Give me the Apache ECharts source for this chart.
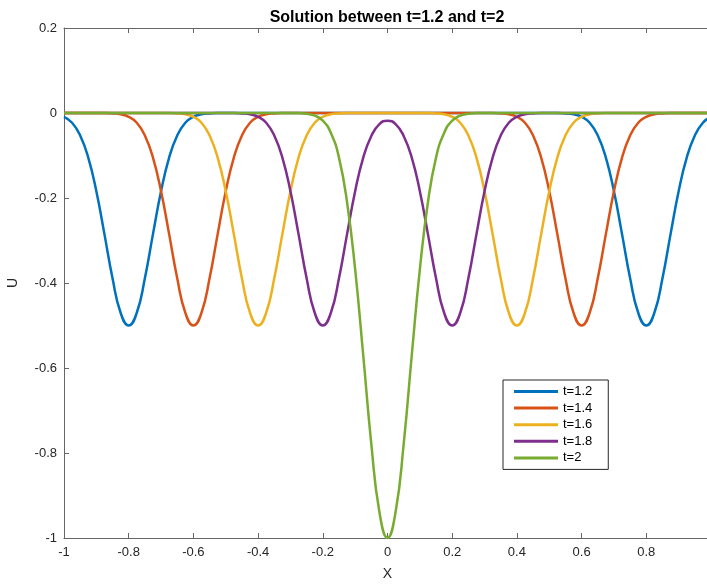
<!DOCTYPE html>
<html>
<head>
<meta charset="utf-8">
<script src="https://cdn.jsdelivr.net/npm/echarts@6/dist/echarts.min.js"></script>
<style>
html,body{margin:0;padding:0;background:#fff;}
#chart{width:707px;height:586px;}
</style>
</head>
<body>
<div id="chart"></div>
<script>
var xs = [-1,-0.975,-0.95,-0.925,-0.9,-0.875,-0.85,-0.825,-0.8,-0.775,-0.75,-0.725,-0.7,-0.675,-0.65,-0.625,-0.6,-0.575,-0.55,-0.525,-0.5,-0.475,-0.45,-0.425,-0.4,-0.375,-0.35,-0.325,-0.3,-0.275,-0.25,-0.225,-0.2,-0.175,-0.15,-0.125,-0.1,-0.075,-0.05,-0.025,0,0.025,0.05,0.075,0.1,0.125,0.15,0.175,0.2,0.225,0.25,0.275,0.3,0.325,0.35,0.375,0.4,0.425,0.45,0.475,0.5,0.525,0.55,0.575,0.6,0.625,0.65,0.675,0.7,0.725,0.75,0.775,0.8,0.825,0.85,0.875,0.9,0.925,0.95,0.975,1];

var u12 = [-0.009,-0.023,-0.053,-0.105,-0.184,-0.285,-0.389,-0.470,-0.500,-0.470,-0.389,-0.285,-0.184,-0.105,-0.053,-0.023,-0.009,-0.003,-0.001,
  0,0,0,0,0,0,0,0,0,0, 0,0,0,0,0,0,0,0,0,0, 0,0,0,0,0,0,0,0,0,0, 0,0,0,0,0,0,0,0,0,0, 0,0,0,
  -0.001,-0.003,-0.009,-0.023,-0.053,-0.105,-0.184,-0.285,-0.389,-0.470,-0.500,-0.470,-0.389,-0.285,-0.184,-0.105,-0.053,-0.023,-0.009];

var u14 = [0,0,0,0,0,0,
  -0.001,-0.003,-0.009,-0.023,-0.053,-0.105,-0.184,-0.285,-0.389,-0.470,-0.500,-0.470,-0.389,-0.285,-0.184,-0.105,-0.053,-0.023,-0.009,-0.003,-0.001,
  0,0,0,0,0,0,0,0,0,0, 0,0,0,0,0,0,0,0,0,0, 0,0,0,0,0,0,0,
  -0.001,-0.003,-0.009,-0.023,-0.053,-0.105,-0.184,-0.285,-0.389,-0.470,-0.500,-0.470,-0.389,-0.285,-0.184,-0.105,-0.053,-0.023,-0.009,-0.003,-0.001,
  0,0,0,0,0,0];

var u16 = [0,0,0,0,0,0,0,0,0,0, 0,0,0,0,
  -0.001,-0.003,-0.009,-0.023,-0.053,-0.105,-0.184,-0.285,-0.389,-0.470,-0.500,-0.470,-0.389,-0.285,-0.184,-0.105,-0.053,-0.023,-0.009,-0.003,-0.001,
  0,0,0,0,0,0,0,0,0,0, 0,
  -0.001,-0.003,-0.009,-0.023,-0.053,-0.105,-0.184,-0.285,-0.389,-0.470,-0.500,-0.470,-0.389,-0.285,-0.184,-0.105,-0.053,-0.023,-0.009,-0.003,-0.001,
  0,0,0,0,0,0,0,0,0,0, 0,0,0,0];

var u18 = [0,0,0,0,0,0,0,0,0,0, 0,0,0,0,0,0,0,0,0,0, 0,0,
  -0.001,-0.003,-0.009,-0.023,-0.053,-0.105,-0.184,-0.285,-0.389,-0.470,-0.500,-0.470,-0.389,-0.285,-0.184,-0.105,
  -0.054,-0.026,-0.018,-0.026,-0.054,
  -0.105,-0.184,-0.285,-0.389,-0.470,-0.500,-0.470,-0.389,-0.285,-0.184,-0.105,-0.053,-0.023,-0.009,-0.003,-0.001,
  0,0,0,0,0,0,0,0,0,0, 0,0,0,0,0,0,0,0,0,0, 0,0];

var u20 = [0,0,0,0,0,0,0,0,0,0, 0,0,0,0,0,0,0,0,0,0, 0,0,0,0,0,0,0,0,0,0,
  -0.002,-0.006,-0.018,-0.047,-0.105,-0.210,-0.368,-0.570,-0.779,-0.939,-1.000,-0.939,-0.779,-0.570,-0.368,-0.210,-0.105,-0.047,-0.018,-0.006,-0.002,
  0,0,0,0,0,0,0,0,0,0, 0,0,0,0,0,0,0,0,0,0, 0,0,0,0,0,0,0,0,0,0];

var seriesNames = ['t=1.2','t=1.4','t=1.6','t=1.8','t=2'];
var seriesValues = [u12,u14,u16,u18,u20];
var colors = ['#0072BD','#D95319','#EDB120','#7E2F8E','#77AC30'];
var titleText = 'Solution between t=1.2 and t=2';

var FONT = '"Liberation Sans", Arial, Helvetica, sans-serif';
var axisColor = '#666666';
var textColor = '#262626';

var chart = echarts.init(document.getElementById('chart'), null, {renderer:'canvas'});

var series = seriesNames.map(function(name, k){
  return {
    name: name,
    type: 'line',
    showSymbol: false,
    symbol: 'none',
    smooth: true,
    color: colors[k],
    lineStyle: {width: 2.5, color: colors[k]},
    itemStyle: {color: colors[k]},
    data: xs.map(function(x, i){ return [x, seriesValues[k][i]]; }),
    z: 2 + k
  };
});

var option = {
  animation: false,
  backgroundColor: '#fff',
  title: {
    text: titleText,
    left: 382,
    textAlign: 'center',
    top: 5,
    textStyle: {fontFamily: FONT, fontSize: 16, fontWeight: 'bold', color: '#000'}
  },
  grid: {left: 64, top: 28, width: 647, height: 510, containLabel: false, outerBoundsMode: 'none'},
  legend: {
    orient: 'vertical',
    left: 503,
    top: 380,
    padding: [5, 16, 5, 11],
    itemWidth: 44,
    itemHeight: 3,
    itemGap: 3.6,
    icon: 'rect',
    borderColor: '#262626',
    borderWidth: 1,
    backgroundColor: '#fff',
    textStyle: {fontFamily: FONT, fontSize: 13, color: '#000', lineHeight: 13, padding: [0,0,0,0]},
    data: seriesNames
  },
  xAxis: [{
    type: 'value',
    min: -1, max: 1, interval: 0.2,
    position: 'bottom',
    name: 'X',
    nameLocation: 'middle',
    nameGap: 29,
    nameTextStyle: {fontFamily: FONT, fontSize: 14, color: textColor},
    axisLine: {show: true, onZero: false, lineStyle: {color: axisColor, width: 1}},
    axisTick: {show: true, inside: true, length: 5, lineStyle: {color: axisColor}},
    axisLabel: {fontFamily: FONT, fontSize: 13, color: textColor, margin: 8, showMaxLabel: true, showMinLabel: true, hideOverlap: false},
    splitLine: {show: false}
  },{
    type: 'value',
    min: -1, max: 1, interval: 0.2,
    position: 'top',
    axisLine: {show: true, onZero: false, lineStyle: {color: axisColor, width: 1}},
    axisTick: {show: true, inside: true, length: 5, lineStyle: {color: axisColor}},
    axisLabel: {show: false},
    splitLine: {show: false}
  }],
  yAxis: [{
    type: 'value',
    min: -1, max: 0.2, interval: 0.2,
    position: 'left',
    name: 'U',
    nameLocation: 'middle',
    nameGap: 44,
    nameTextStyle: {fontFamily: FONT, fontSize: 14, color: textColor},
    axisLine: {show: true, onZero: false, lineStyle: {color: axisColor, width: 1}},
    axisTick: {show: true, inside: true, length: 5, lineStyle: {color: axisColor}},
    axisLabel: {fontFamily: FONT, fontSize: 13, color: textColor, margin: 7,
      formatter: function(v){ return String(Math.round(v*10)/10); }},
    splitLine: {show: false}
  }],
  series: series
};
chart.setOption(option);
</script>
</body>
</html>
